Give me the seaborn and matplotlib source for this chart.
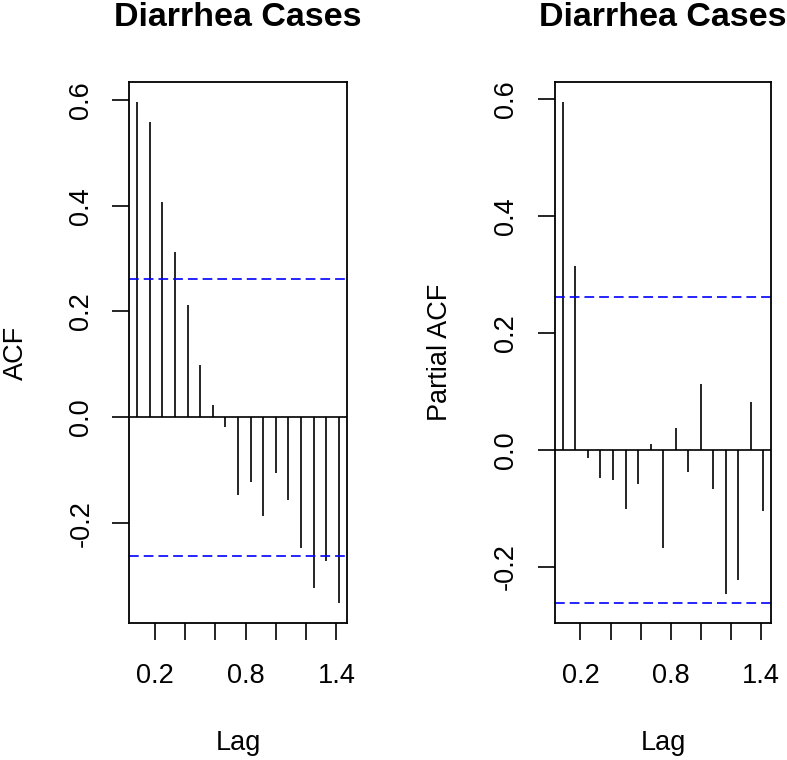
import numpy as np
import pandas as pd
import matplotlib.pyplot as plt
import seaborn as sns

lag_months = list(range(1, 18))
acf_vals = [0.596, 0.558, 0.407, 0.312, 0.212, 0.099, 0.023, -0.018, -0.147,
            -0.123, -0.187, -0.105, -0.157, -0.248, -0.323, -0.272, -0.351]
pacf_vals = [0.595, 0.314, -0.014, -0.048, -0.051, -0.102, -0.059, 0.010, -0.168,
             0.038, -0.038, 0.113, -0.067, -0.246, -0.223, 0.081, -0.104]
n_obs = 56
panel_title = 'Diarrhea Cases'
x_ticks = [0.2, 0.4, 0.6, 0.8, 1.0, 1.2, 1.4]
x_ticklabels = ['0.2', '', '', '0.8', '', '', '1.4']
y_ticks = [-0.2, 0.0, 0.2, 0.4, 0.6]
y_ticklabels = ['-0.2', '0.0', '0.2', '0.4', '0.6']

sns.set_style('ticks')
plt.rcParams['font.family'] = ['Liberation Sans', 'DejaVu Sans']
plt.rcParams['lines.scale_dashes'] = False
plt.rcParams['text.color'] = 'black'
plt.rcParams['axes.labelcolor'] = 'black'
plt.rcParams['xtick.color'] = 'black'
plt.rcParams['ytick.color'] = 'black'

df = pd.DataFrame({'Lag': np.array(lag_months) / 12,
                   'ACF': acf_vals,
                   'Partial ACF': pacf_vals})
clim = 1.96 / np.sqrt(n_obs)

fig = plt.figure(figsize=(7.87, 7.6), dpi=100)
ax1 = fig.add_axes([0.1639, 0.1803, 0.2770, 0.7118])
ax2 = fig.add_axes([0.7052, 0.1803, 0.2745, 0.7118])

for ax, col, ylab_x, ypad in [(ax1, 'ACF', -0.46, 13), (ax2, 'Partial ACF', -0.47, 14)]:
    # spikes
    ax.vlines(df['Lag'], 0, df[col], color='black', lw=1.2)
    ax.axhline(0, color='black', lw=1.2)
    for c in (clim, -clim):
        ax.axhline(c, color='#0000FF', lw=1.2, linestyle=(0, (7, 3.6)))

    # R style 4% axis extension
    xlo, xhi = df['Lag'].min(), df['Lag'].max()
    xp = 0.04 * (xhi - xlo)
    ax.set_xlim(xlo - xp, xhi + xp)
    lo = min(df[col].min(), -clim)
    hi = max(df[col].max(), clim)
    yp = 0.04 * (hi - lo)
    ax.set_ylim(lo - yp, hi + yp)

    ax.set_xticks(x_ticks)
    ax.set_xticklabels(x_ticklabels)
    ax.set_yticks(y_ticks)
    ax.set_yticklabels(y_ticklabels, rotation=90, va='center')
    ax.tick_params(direction='out', length=12, width=1.2, labelsize=19.5,
                   color='black', labelcolor='black')
    ax.tick_params(axis='x', pad=17)
    ax.tick_params(axis='y', pad=ypad)

    for sp in ax.spines.values():
        sp.set_visible(True)
        sp.set_color('black')
        sp.set_linewidth(1.3)

    ax.set_xlabel('Lag', fontsize=19.5)
    ax.xaxis.set_label_coords(0.5, -0.197)
    ax.set_ylabel(col, fontsize=19.5)
    ax.yaxis.set_label_coords(ylab_x, 0.5)
    ax.set_title(panel_title, fontsize=24.5, fontweight='bold', y=1.104, pad=0)

fig.savefig('out.png', dpi=100)
